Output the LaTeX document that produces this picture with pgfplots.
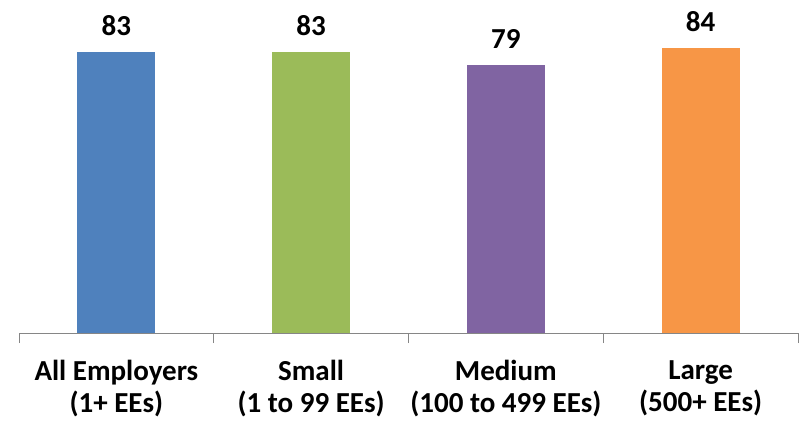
\documentclass[border=0pt]{standalone}
\usepackage{pgfplots}
\pgfplotsset{compat=1.18}
\usepackage{fontspec}
\setmainfont{Carlito}
\definecolor{cblue}{HTML}{4F81BD}
\definecolor{cgreen}{HTML}{9BBB59}
\definecolor{cpurple}{HTML}{8064A2}
\definecolor{corange}{HTML}{F79646}
\definecolor{axgray}{HTML}{868686}
\begin{document}
\begin{tikzpicture}
\begin{axis}[
  scale only axis,
  width=779pt, height=333pt,
  xmin=-0.5, xmax=3.5,
  ymin=0, ymax=98.3,
  axis x line=bottom,
  axis y line=none,
  axis line style={-, draw=axgray, line width=1pt},
  xtick={0,1,2,3},
  xticklabels={{All Employers\\(1+ EEs)},{Small\\(1 to 99 EEs)},{Medium\\(100 to 499 EEs)},{Large\\(500+ EEs)}},
  major tick length=0pt,
  minor xtick={-0.5,0.5,1.5,2.5,3.5},
  minor tick length=10pt,
  tick align=outside,
  minor tick style={draw=axgray, line width=1pt},
  xticklabel style={align=center, font=\bfseries\fontsize{29}{32}\selectfont, yshift=-24pt},
  /pgf/number format/assume math mode=true,
  clip=false,
  nodes near coords,
  every node near coord/.append style={font=\bfseries\fontsize{29}{32}\selectfont, yshift=13pt},
  ybar, bar width=78pt, bar shift=0pt,
]
\addplot[fill=cblue, draw=none] coordinates {(0,83)};
\addplot[fill=cgreen, draw=none] coordinates {(1,83)};
\addplot[fill=cpurple, draw=none] coordinates {(2,79)};
\addplot[fill=corange, draw=none] coordinates {(3,84)};
\end{axis}
\useasboundingbox (current axis.south west) ++(-19pt,-87pt) rectangle ++(799pt,420pt);
\end{tikzpicture}
\end{document}
